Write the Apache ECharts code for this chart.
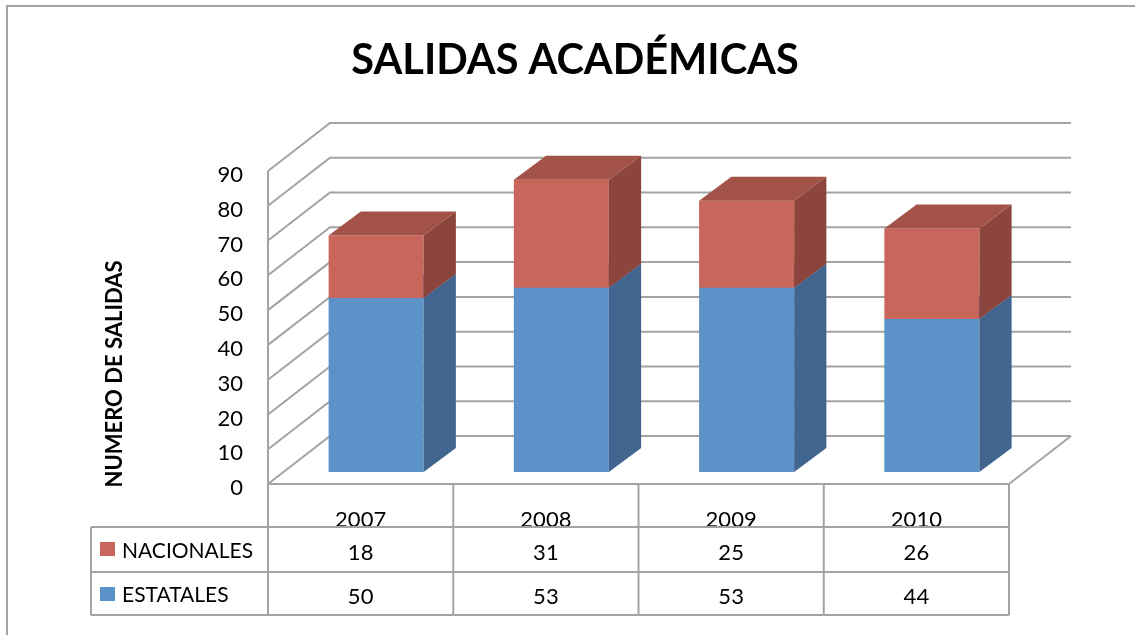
<!DOCTYPE html>
<html lang="es">
<head>
    <meta charset="UTF-8">
    <title>Salidas Académicas</title>
    <script src="https://cdn.jsdelivr.net/npm/echarts@6.0.0/dist/echarts.min.js"></script>
    <style>
        body, html {
            margin: 0;
            padding: 0;
            background-color: #ffffff;
        }
        #chart {
            width: 1135px;
            height: 635px;
        }
    </style>
</head>
<body>
    <div id="chart"></div>

    <script>
        // data
        const years = ['2007', '2008', '2009', '2010'];
        const estatales = [50, 53, 53, 44];
        const nacionales = [18, 31, 25, 26];
        const yTicks = [0, 10, 20, 30, 40, 50, 60, 70, 80, 90];
        const seriesNames = ['ESTATALES', 'NACIONALES'];

        const FONT = 'Lato, "Open Sans", sans-serif';
        const LINE = '#a3a3a3';
        const DX = 62, DY = -48;   // depth of the 3d box
        const BLUE = { front: '#5b93c9', side: '#41658f', top: '#4a7ab0' };
        const RED = { front: '#c9665b', side: '#8c453c', top: '#a35248' };

        const chart = echarts.init(document.getElementById('chart'));

        function seg(x1, y1, x2, y2) {
            return { type: 'line', shape: { x1, y1, x2, y2 }, style: { stroke: LINE, lineWidth: 2 } };
        }

        // back wall, side wall and floor
        function renderWalls(params, api) {
            const cs = params.coordSys;
            const left = cs.x, right = cs.x + cs.width;
            const children = [];
            yTicks.forEach(v => {
                const y = api.coord([0, v])[1];
                children.push({
                    type: 'polyline',
                    shape: { points: [[left, y], [left + DX, y + DY], [right + DX, y + DY]] },
                    style: { stroke: LINE, lineWidth: 2, fill: null }
                });
            });
            const y0 = api.coord([0, 0])[1];
            const yTop = api.coord([0, yTicks[yTicks.length - 1]])[1];
            children.push(seg(left, yTop, left, y0));
            children.push(seg(right, y0, right + DX, y0 + DY));
            return { type: 'group', children };
        }

        function box(api, c, v0, v1, col) {
            const bw = api.size([1, 0])[0] * 0.513;
            const xc = api.coord([c, 0])[0];
            const sx = DX * 0.25, sy = DY * 0.25;
            const dx = DX * 0.52, dy = DY * 0.5;
            const xl = xc - bw / 2 + sx, xr = xc + bw / 2 + sx;
            const yb = api.coord([c, v0])[1] + sy;
            const yt = api.coord([c, v1])[1] + sy;
            return {
                type: 'group',
                children: [
                    { type: 'rect', shape: { x: xl, y: yt, width: xr - xl, height: yb - yt }, style: { fill: col.front } },
                    { type: 'polygon', shape: { points: [[xr, yb], [xr + dx, yb + dy], [xr + dx, yt + dy], [xr, yt]] }, style: { fill: col.side } },
                    { type: 'polygon', shape: { points: [[xl, yt], [xl + dx, yt + dy], [xr + dx, yt + dy], [xr, yt]] }, style: { fill: col.top } }
                ]
            };
        }

        // data table under the plot
        function renderTable(params, api) {
            const c = api.value(0);
            const bw = api.size([1, 0])[0];
            const xc = api.coord([c, 0])[0];
            const y0 = api.coord([c, 0])[1];
            const xl = xc - bw / 2, xr = xc + bw / 2;
            const r1 = y0 + 43, r2 = y0 + 88, r3 = y0 + 131;
            const children = [
                seg(xl, y0, xr, y0), seg(xl, r1, xr, r1), seg(xl, r2, xr, r2), seg(xl, r3, xr, r3),
                seg(xr, y0, xr, r3)
            ];
            if (c === 0) children.push(seg(xl, y0, xl, r3));
            children.push({
                type: 'text', x: xc, y: (r1 + r2) / 2 + 3,
                style: { text: String(api.value(1)), font: '22px ' + FONT, fill: '#000', align: 'center', verticalAlign: 'middle' }
            });
            children.push({
                type: 'text', x: xc, y: (r2 + r3) / 2 + 3,
                style: { text: String(api.value(2)), font: '22px ' + FONT, fill: '#000', align: 'center', verticalAlign: 'middle' }
            });
            return { type: 'group', children };
        }

        const option = {
            backgroundColor: '#ffffff',
            animation: false,
            title: {
                text: 'SALIDAS ACADÉMICAS',
                left: 570,
                top: 35,
                textAlign: 'center',
                textStyle: { fontFamily: FONT, fontWeight: 'bold', fontSize: 41.5, color: '#000' }
            },
            grid: { left: 268, right: 126, top: 171, bottom: 151 },
            xAxis: {
                type: 'category',
                data: years,
                axisLine: { show: false },
                axisTick: { show: false },
                axisLabel: { margin: 25, fontFamily: FONT, fontSize: 22, color: '#000' }
            },
            yAxis: {
                type: 'value',
                min: 0,
                max: 90,
                interval: 10,
                splitLine: { show: false },
                axisLine: { show: false },
                axisTick: { show: false },
                axisLabel: {
                    margin: 25,
                    formatter: '{a|{value}}',
                    rich: { a: { fontFamily: FONT, fontSize: 22, color: '#000', padding: [8, 0, 0, 0] } }
                }
            },
            graphic: [
                {
                    type: 'rect', shape: { x: 7, y: 6, width: 1300, height: 800 },
                    style: { fill: null, stroke: LINE, lineWidth: 2 }, z: -1
                },
                {
                    type: 'text', x: 115, y: 374, rotation: Math.PI / 2,
                    style: { text: 'NUMERO DE SALIDAS', font: 'bold 22px ' + FONT, fill: '#000', align: 'center', verticalAlign: 'middle' }
                },
                // legend column of the table
                { type: 'line', shape: { x1: 91, y1: 527, x2: 268, y2: 527 }, style: { stroke: LINE, lineWidth: 2 } },
                { type: 'line', shape: { x1: 91, y1: 572, x2: 268, y2: 572 }, style: { stroke: LINE, lineWidth: 2 } },
                { type: 'line', shape: { x1: 91, y1: 615, x2: 268, y2: 615 }, style: { stroke: LINE, lineWidth: 2 } },
                { type: 'line', shape: { x1: 91, y1: 527, x2: 91, y2: 615 }, style: { stroke: LINE, lineWidth: 2 } },
                { type: 'rect', shape: { x: 100, y: 542, width: 15, height: 14 }, style: { fill: RED.front } },
                {
                    type: 'text', x: 122, y: 551,
                    style: { text: seriesNames[1], font: '21px ' + FONT, fill: '#000', verticalAlign: 'middle' }
                },
                { type: 'rect', shape: { x: 100, y: 587, width: 15, height: 14 }, style: { fill: BLUE.front } },
                {
                    type: 'text', x: 122, y: 595,
                    style: { text: seriesNames[0], font: '21px ' + FONT, fill: '#000', verticalAlign: 'middle' }
                }
            ],
            series: [
                {
                    type: 'custom',
                    name: 'walls',
                    silent: true,
                    renderItem: renderWalls,
                    data: [[0, 0]],
                    z: 1
                },
                {
                    type: 'custom',
                    name: seriesNames[0],
                    renderItem: (params, api) => box(api, api.value(0), 0, api.value(1), BLUE),
                    data: estatales.map((v, i) => [i, v]),
                    encode: { x: 0, y: 1 },
                    z: 2
                },
                {
                    type: 'custom',
                    name: seriesNames[1],
                    renderItem: (params, api) => box(api, api.value(0), api.value(1), api.value(1) + api.value(2), RED),
                    data: nacionales.map((v, i) => [i, estatales[i], v]),
                    encode: { x: 0, y: 1 },
                    z: 3
                },
                {
                    type: 'custom',
                    name: 'table',
                    silent: true,
                    renderItem: renderTable,
                    data: years.map((y, i) => [i, nacionales[i], estatales[i]]),
                    encode: { x: 0, y: 1 },
                    z: 1
                }
            ]
        };
        chart.setOption(option);
    </script>
</body>
</html>
